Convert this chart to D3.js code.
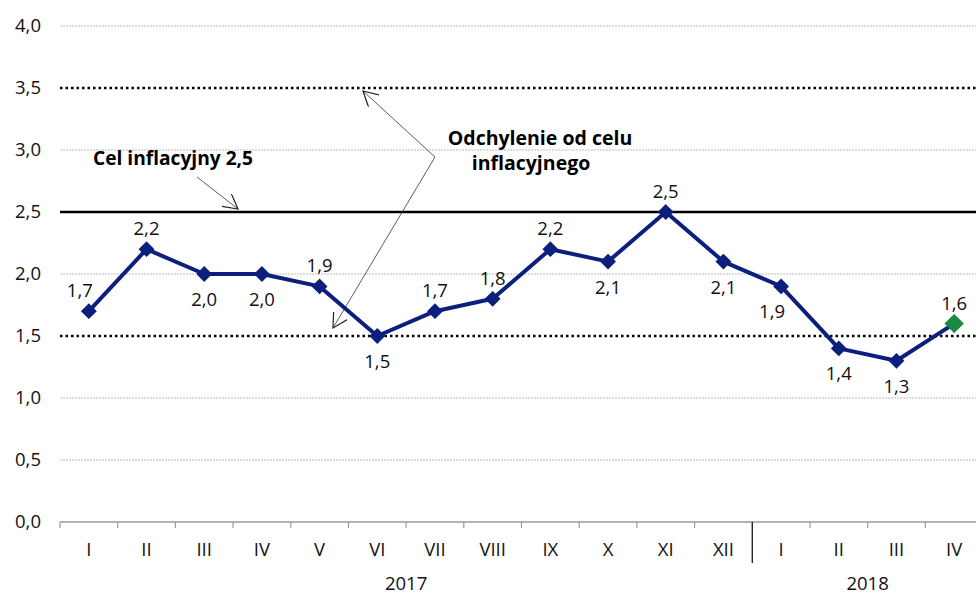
<!DOCTYPE html>
<html><head><meta charset="utf-8">
<script src="https://cdn.jsdelivr.net/npm/d3@7"></script>
<style>body{margin:0;background:#fff}svg{display:block}text{font-family:"Open Sans","Noto Sans",sans-serif}</style>
</head><body><svg id="c" width="976" height="594"></svg>
<script>
const months = ["I","II","III","IV","V","VI","VII","VIII","IX","X","XI","XII","I","II","III","IV"];
const years = [{label:"2017", from:0, to:12},{label:"2018", from:12, to:16}];
const values = [1.7,2.2,2.0,2.0,1.9,1.5,1.7,1.8,2.2,2.1,2.5,2.1,1.9,1.4,1.3,1.6];
const labelPos = ["al","a","b","b","a","b","a","a","a","b","a","b","bl","b","b","a"];
const yTicks = [0,0.5,1.0,1.5,2.0,2.5,3.0,3.5,4.0];
const target = 2.5, bandLow = 1.5, bandHigh = 3.5;

const svg = d3.select("#c");
const fmt = v => d3.format(".1f")(v).replace(".", ",");
const x = d3.scaleBand().domain(d3.range(months.length)).range([60, 983]).padding(0);
const y = d3.scaleLinear().domain([0,4]).range([522, 26]);
const cx = i => x(i) + x.bandwidth()/2;
const FS = 18.5;

// gridlines
yTicks.forEach(t => {
  if (t === 0) return;
  let g = svg.append("line").attr("x1",60).attr("x2",976).attr("y1",y(t)).attr("y2",y(t));
  if (t === bandLow || t === bandHigh) g.attr("stroke","#000").attr("stroke-width",2.5).attr("stroke-dasharray","2.5,3");
  else if (t === target) g.attr("stroke","#000").attr("stroke-width",2.5);
  else g.attr("stroke","#bbb").attr("stroke-width",1).attr("stroke-dasharray","2,1");
});
// y labels
svg.append("g").selectAll("text").data(yTicks).join("text")
  .attr("x",41).attr("y",d=>y(d)).attr("dy","0.35em").attr("text-anchor","end")
  .attr("font-size",FS).attr("fill","#111").text(fmt);

// x axis
svg.append("line").attr("x1",60).attr("x2",976).attr("y1",522).attr("y2",522).attr("stroke","#999").attr("stroke-width",1.5);
d3.range(months.length).forEach(i=>{
  if (i===12) return;
  svg.append("line").attr("x1",x(i)).attr("x2",x(i)).attr("y1",522).attr("y2",528).attr("stroke","#999").attr("stroke-width",1.2);
});
svg.append("line").attr("x1",x(12)).attr("x2",x(12)).attr("y1",522).attr("y2",563).attr("stroke","#000").attr("stroke-width",1.2);
svg.append("g").selectAll("text").data(months).join("text")
  .attr("x",(d,i)=>cx(i)).attr("y",556).attr("text-anchor","middle").attr("font-size",FS).attr("fill","#111").text(d=>d);
svg.append("g").selectAll("text").data(years).join("text")
  .attr("x",d=>(x(d.from)+ (d.to<months.length?x(d.to):983))/2).attr("y",590).attr("text-anchor","middle")
  .attr("font-size",FS).attr("fill","#111").text(d=>d.label);

// annotations
const defs = svg.append("defs");
defs.append("marker").attr("id","arr").attr("viewBox","0 0 12 12").attr("refX",11).attr("refY",6)
  .attr("markerWidth",16).attr("markerHeight",16).attr("markerUnits","userSpaceOnUse").attr("orient","auto")
  .append("path").attr("d","M0,0 L11,6 L0,12").attr("fill","none").attr("stroke","#222").attr("stroke-width",0.9);
const ann = svg.append("g").attr("stroke","#333").attr("stroke-width",0.8).attr("fill","none");
ann.append("line").attr("x1",197).attr("y1",177).attr("x2",238).attr("y2",y(target)-3).attr("marker-end","url(#arr)");
ann.append("line").attr("x1",435).attr("y1",157).attr("x2",363).attr("y2",y(bandHigh)+3).attr("marker-end","url(#arr)");
ann.append("line").attr("x1",435).attr("y1",157).attr("x2",333).attr("y2",y(bandLow)-8).attr("marker-end","url(#arr)");
const bt = svg.append("g").attr("font-family","Roboto, 'Open Sans', sans-serif").attr("font-weight","bold").attr("font-size",19.5).attr("fill","#000");
bt.append("text").attr("x",93).attr("y",165).attr("textLength",160).attr("lengthAdjust","spacingAndGlyphs").text("Cel inflacyjny 2,5");
bt.append("text").attr("x",540).attr("y",145).attr("text-anchor","middle").text("Odchylenie od celu");
bt.append("text").attr("x",531).attr("y",170).attr("text-anchor","middle").text("inflacyjnego");

// line
svg.append("path").datum(values).attr("fill","none").attr("stroke","#0c1f7d").attr("stroke-width",4)
  .attr("stroke-linejoin","round")
  .attr("d", d3.line().x((d,i)=>cx(i)).y(d=>y(d)));
svg.append("g").selectAll("path").data(values).join("path")
  .attr("transform",(d,i)=>`translate(${cx(i)},${y(d)})`)
  .attr("d",(d,i)=>d3.symbol().type(d3.symbolDiamond2).size(i===values.length-1?240:160)())
  .attr("fill",(d,i)=>i===values.length-1?"#1a8a43":"#0c1f7d");

// value labels
svg.append("g").selectAll("text").data(values).join("text")
  .attr("x",(d,i)=>cx(i) + (labelPos[i].endsWith("l") ? -9 : 0))
  .attr("y",(d,i)=>y(d) + (labelPos[i].startsWith("a") ? -14 : 32))
  .attr("text-anchor","middle").attr("font-size",FS).attr("fill","#111").text(fmt);
</script></body></html>
